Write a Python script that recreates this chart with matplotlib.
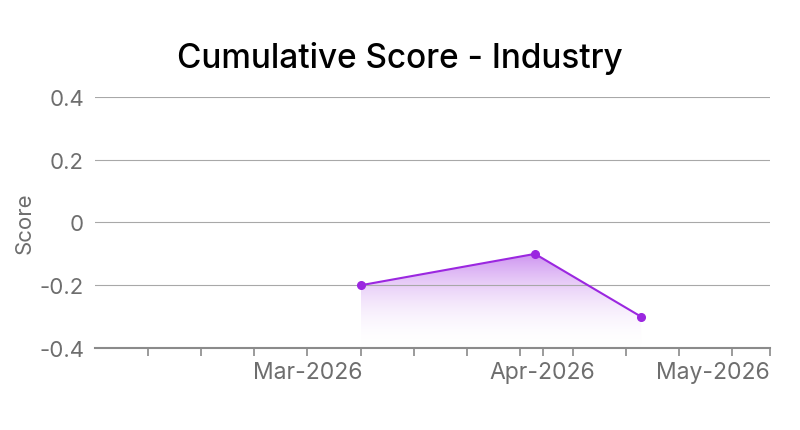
import numpy as np
import pandas as pd
import matplotlib
matplotlib.use("Agg")
from matplotlib import pyplot as plt
import matplotlib.dates as mdates
from matplotlib.patches import Polygon
from matplotlib.colors import LinearSegmentedColormap

plt.rcParams['font.family'] = ['Inter', 'DejaVu Sans']

# data
dates = pd.to_datetime(['2026-03-08', '2026-03-31', '2026-04-14'])
scores = [-0.2, -0.1, -0.3]
yticks = [-0.4, -0.2, 0, 0.2, 0.4]
ytick_labels = ['-0.4', '-0.2', '0', '0.2', '0.4']
month_ticks = pd.to_datetime(['2026-03-01', '2026-04-01', '2026-05-01'])
month_labels = ['Mar-2026', 'Apr-2026', 'May-2026']
week_ticks = pd.date_range('2026-02-08', '2026-04-26', freq='7D')

line_color = '#9B27E0'
grey = '#6e6e6e'

fig = plt.figure(figsize=(8, 4.31), dpi=100)
ax = fig.add_axes([0.119, 0.19, 0.8435, 0.583])

x = mdates.date2num(dates)
ymin, ymax = -0.4, 0.4

# gradient fill under the line
cmap = LinearSegmentedColormap.from_list('fade', [(1, 1, 1, 0), (0.61, 0.15, 0.88, 0.5)])
grad = np.linspace(0, 1, 256).reshape(-1, 1)
img = ax.imshow(grad, extent=[x[0], x[-1], ymin, max(scores)], origin='lower',
                aspect='auto', cmap=cmap, zorder=1)
verts = [(x[0], ymin)] + list(zip(x, scores)) + [(x[-1], ymin)]
poly = Polygon(verts, closed=True, facecolor='none', edgecolor='none')
ax.add_patch(poly)
img.set_clip_path(poly)

ax.plot(x, scores, color=line_color, lw=1.5, marker='o', ms=5.5, zorder=3)

ax.set_xlim(mdates.date2num(pd.Timestamp('2026-02-01')), mdates.date2num(pd.Timestamp('2026-05-01')))
ax.set_ylim(ymin, ymax)

ax.set_yticks(yticks)
ax.set_yticklabels(ytick_labels)
ax.grid(axis='y', color='#a8a8a8', lw=0.8, zorder=2)
ax.set_axisbelow(False)
ax.tick_params(axis='y', length=0, pad=8, labelsize=16, labelcolor=grey)

ax.set_xticks(mdates.date2num(month_ticks))
xl = ax.set_xticklabels(month_labels)
xl[-1].set_ha('right')
ax.set_xticks(mdates.date2num(week_ticks), minor=True)
ax.tick_params(axis='x', which='both', length=6, width=1.2, color='#8a8a8a',
               labelsize=16.5, labelcolor=grey, pad=3)

for s in ['top', 'right', 'left']:
    ax.spines[s].set_visible(False)
ax.spines['bottom'].set_color('#8a8a8a')
ax.spines['bottom'].set_linewidth(1.5)

ax.set_ylabel('Score', fontsize=16, color=grey, labelpad=3)
fig.text(0.5, 0.865, 'Cumulative Score - Industry', ha='center', va='center',
         fontsize=24, fontweight='medium', color='black')

fig.savefig('out.png', dpi=100)
